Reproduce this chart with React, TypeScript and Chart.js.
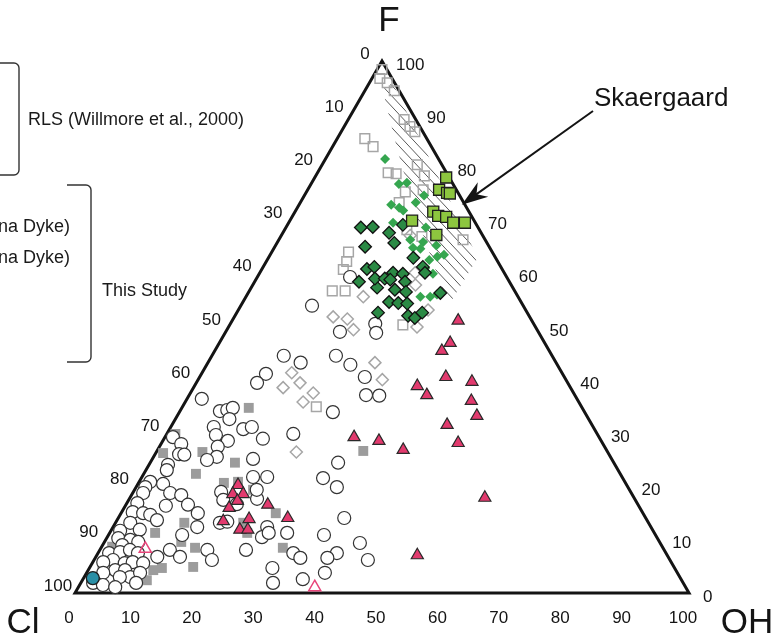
import { useEffect, useRef } from "react";
import { Chart, registerables } from "chart.js";

Chart.register(...registerables);

// All data are ternary compositions given as [F, OH] in mol %; Cl = 100 - F - OH.
const rlsOpenSquares: [number, number][] = [
  [98.4, 0.8], [96.7, 1.3], [95.9, 2.9], [94.4, 4.8], [89.0, 9.1], [87.7, 10.7], [86.7, 12.0],
  [85.4, 4.5], [83.9, 6.6], [80.5, 15.5], [78.4, 17.7], [79.0, 11.5], [78.8, 12.9], [75.4, 16.1],
  [75.8, 18.8], [73.4, 16.1], [66.4, 30.0], [64.1, 12.5], [62.3, 13.1], [60.8, 13.3], [56.8, 13.5],
  [56.8, 15.6], [50.4, 28.2], [68.3, 19.9], [35.0, 21.8], [67.0, 23.0],
];

const rlsOpenDiamonds: [number, number][] = [
  [60.2, 25.3], [57.9, 26.5], [55.7, 19.1], [51.9, 16.1], [51.5, 18.6], [49.5, 20.6], [53.2, 30.9],
  [50.0, 30.7], [43.3, 27.2], [40.1, 30.0], [41.4, 14.6], [39.5, 16.9], [38.6, 14.6], [37.6, 20.0],
  [35.9, 19.2], [26.5, 22.8], [67.2, 21.0],
];

const greySquares: [number, number][] = [
  [34.8, 10.9], [29.9, 1.4], [26.3, 1.2], [26.5, 7.5], [24.5, 13.8], [22.4, 8.5], [20.7, 13.9],
  [19.4, 19.3], [15.0, 25.2], [13.2, 11.2], [11.3, 7.4], [13.2, 20.8], [9.6, 12.5], [8.5, 15.3],
  [8.5, 29.6], [8.7, 1.7], [4.9, 16.8], [4.7, 11.8], [4.9, 2.0], [2.4, 10.5], [26.7, 33.6],
  [4.3, 10.6], [20.9, 16.1], [11.3, 22.4],
];

const openCircles: [number, number][] = [
  [44.6, 11.7], [43.3, 15.1], [41.2, 10.5], [39.5, 9.9], [36.5, 2.4], [34.2, 6.5], [34.4, 7.6],
  [34.8, 8.3], [32.7, 8.8], [30.8, 12.0], [31.2, 13.2], [31.2, 7.0], [29.7, 8.1], [28.6, 10.6],
  [29.0, 16.1], [29.9, 20.6], [29.3, 1.3], [28.0, 3.3], [26.1, 3.9], [27.5, 9.5], [25.6, 10.3],
  [25.0, 9.0], [26.0, 4.8], [24.1, 3.1], [23.1, 3.4], [25.2, 16.4], [21.8, 18.1], [21.8, 20.4],
  [20.9, 1.8], [19.9, 1.5], [18.8, 1.7], [20.5, 4.1], [18.8, 6.1], [18.4, 8.1], [16.4, 6.6],
  [16.6, 10.1], [15.0, 12.5], [12.4, 13.7], [19.0, 14.3], [17.5, 15.4], [16.7, 18.0], [17.7, 20.8],
  [16.9, 1.7], [15.2, 1.8], [15.0, 3.6], [14.7, 4.9], [13.7, 6.5], [13.2, 2.4], [11.9, 4.6],
  [11.7, 1.5], [10.3, 1.9], [10.0, 4.0], [9.6, 5.5], [9.0, 3.2], [7.5, 1.8], [7.7, 3.5], [8.1, 4.9],
  [7.5, 6.5], [6.2, 3.1], [5.8, 1.7], [5.6, 5.3], [5.8, 6.5], [5.6, 8.3], [4.3, 4.4], [4.3, 6.0],
  [3.8, 2.7], [3.0, 7.5], [3.8, 8.7], [3.0, 5.8], [1.9, 2.0], [1.5, 3.8], [1.1, 6.0], [1.9, 9.0],
  [6.8, 10.0], [8.1, 11.4], [6.8, 13.7], [10.9, 12.0], [8.1, 17.5], [6.2, 19.2], [13.2, 17.0],
  [13.4, 18.1], [12.4, 25.1], [10.5, 25.2], [11.3, 25.9], [11.3, 28.9], [8.1, 23.8], [4.7, 29.8],
  [1.9, 31.3], [7.5, 31.8], [6.6, 33.4], [2.6, 35.8], [19.4, 19.9], [54.0, 11.6], [49.1, 18.6],
  [50.6, 23.6], [48.9, 24.6], [44.6, 20.2], [42.9, 23.4], [40.6, 26.9], [37.2, 28.8], [37.1, 31.0],
  [34.0, 25.0], [24.5, 30.6], [21.6, 29.6], [19.9, 32.7], [14.1, 36.8], [10.9, 35.1], [9.4, 41.7],
  [7.5, 38.9], [6.6, 37.8], [6.2, 44.6], [3.8, 38.8], [59.4, 15.1],
];

const magentaTriangles: [number, number][] = [
  [20.3, 16.4], [18.6, 16.4], [18.6, 18.1], [17.3, 17.8], [16.0, 17.1], [16.6, 23.1], [13.5, 17.4],
  [13.9, 21.4], [11.9, 20.9], [11.9, 22.2], [14.1, 27.6], [51.2, 36.8], [47.0, 37.6], [45.5, 37.0],
  [40.6, 40.1], [39.7, 44.8], [38.9, 36.3], [37.2, 38.7], [36.1, 46.5], [33.3, 48.8], [31.6, 44.8],
  [28.2, 48.3], [29.3, 30.8], [28.6, 35.2], [26.9, 40.0], [17.9, 57.8], [7.1, 52.2],
];

const openPinkTriangles: [number, number][] = [[8.3, 7.3], [1.1, 38.5]];

const tealCircles: [number, number][] = [[2.8, 1.5]];

const darkGreenDiamonds: [number, number][] = [
  [68.7, 12.2], [68.8, 14.1], [65.1, 14.7], [67.7, 17.3], [65.8, 19.1], [69.2, 18.8], [60.9, 17.1],
  [61.3, 18.1], [58.5, 17.0], [57.4, 20.5], [59.1, 19.3], [59.1, 20.9], [60.2, 21.7], [58.9, 21.9],
  [60.0, 23.4], [58.5, 24.5], [57.0, 23.6], [56.6, 25.6], [54.7, 23.8], [54.5, 25.4], [54.4, 26.9],
  [52.7, 23.0], [52.1, 28.2], [51.7, 29.5], [52.7, 30.2], [63.0, 23.6], [61.3, 26.0], [60.2, 26.9],
  [56.4, 31.3],
];

const brightGreenDiamonds: [number, number][] = [
  [81.6, 9.7], [76.9, 14.3], [77.1, 15.5], [74.7, 19.5], [73.4, 18.8], [73.0, 15.0], [72.4, 16.6],
  [71.9, 17.5], [69.6, 17.0], [68.7, 22.8], [66.4, 21.4], [66.0, 23.7], [65.3, 26.2], [64.9, 22.6],
  [64.7, 23.9], [62.6, 26.4], [63.2, 27.4], [63.6, 28.3], [61.1, 26.5], [60.0, 28.3], [55.7, 28.4],
  [55.7, 30.0], [56.1, 30.9],
];

const skaergaardSquares: [number, number][] = [
  [78.1, 21.4], [75.8, 21.4], [75.2, 23.0], [75.1, 23.5], [71.7, 22.5], [70.9, 23.7], [70.7, 25.1],
  [69.6, 26.8], [69.6, 28.7], [70.0, 19.9], [67.3, 25.2],
];

// Skaergaard field (hatched), [F, OH]
const skaergaardField: [number, number][] = [
  [95.7, 2.45], [95.7, 3.95], [63.0, 34.1], [55.1, 33.85], [55.7, 32.45], [71.5, 19.65], [83.3, 10.85],
  [92.7, 4.15],
];
const skaergaardArrowTip: [number, number] = [73.0, 26.5];

const axisTicks = [0, 10, 20, 30, 40, 50, 60, 70, 80, 90, 100];
const axisTitles = { top: "F", left: "Cl", right: "OH" };
const legendTexts = {
  rls: "RLS (Willmore et al., 2000)",
  dyke1: "na Dyke)",
  dyke2: "na Dyke)",
  study: "This Study",
  skaergaard: "Skaergaard",
};

const S3 = Math.sqrt(3) / 2;
const toXY = ([f, oh]: [number, number]) => ({ x: oh + f / 2, y: f * S3 });

const FONT = "'Liberation Sans', Arial, Helvetica, sans-serif";

const ternaryPlugin = {
  id: "ternaryDecor",
  beforeDatasetsDraw(chart: any) {
    const { ctx } = chart;
    const xs = chart.scales.x;
    const ys = chart.scales.y;
    const P = (f: number, oh: number): [number, number] => [
      xs.getPixelForValue(oh + f / 2),
      ys.getPixelForValue(f * S3),
    ];
    // hatched field
    const poly = skaergaardField.map(([f, oh]) => P(f, oh));
    ctx.save();
    ctx.beginPath();
    poly.forEach(([px, py], i) => (i ? ctx.lineTo(px, py) : ctx.moveTo(px, py)));
    ctx.closePath();
    ctx.clip();
    const a = (47 * Math.PI) / 180;
    const dx = Math.cos(a), dy = Math.sin(a);
    const nx = -dy, ny = dx;
    const ts = poly.map(([px, py]) => px * nx + py * ny);
    const tmin = Math.min(...ts), tmax = Math.max(...ts);
    ctx.beginPath();
    for (let t = tmin + 2; t <= tmax; t += 7.2) {
      const cx = nx * t, cy = ny * t;
      const c0 = poly[0][0] * dx + poly[0][1] * dy;
      ctx.moveTo(cx + dx * (c0 - 400), cy + dy * (c0 - 400));
      ctx.lineTo(cx + dx * (c0 + 400), cy + dy * (c0 + 400));
    }
    ctx.strokeStyle = "#5a5a5a";
    ctx.lineWidth = 1;
    ctx.stroke();
    ctx.restore();

    // triangle
    const A = P(100, 0), B = P(0, 0), C = P(0, 100);
    ctx.save();
    ctx.beginPath();
    ctx.moveTo(A[0], A[1]);
    ctx.lineTo(B[0], B[1]);
    ctx.lineTo(C[0], C[1]);
    ctx.closePath();
    ctx.lineWidth = 3;
    ctx.lineJoin = "miter";
    ctx.strokeStyle = "#141414";
    ctx.stroke();
    ctx.restore();
  },
  afterDatasetsDraw(chart: any) {
    const { ctx } = chart;
    const xs = chart.scales.x;
    const ys = chart.scales.y;
    const P = (f: number, oh: number): [number, number] => [
      xs.getPixelForValue(oh + f / 2),
      ys.getPixelForValue(f * S3),
    ];
    ctx.save();
    ctx.fillStyle = "#141414";
    ctx.textBaseline = "middle";
    ctx.font = `17px ${FONT}`;
    axisTicks.forEach((v) => {
      // bottom: OH
      const [bx, by] = P(0, v);
      ctx.textAlign = "center";
      ctx.fillText(String(v), bx - 6, by + 25);
      // left: Cl (0 at F apex, 100 at Cl corner)
      const [lx, ly] = P(100 - v, 0);
      ctx.fillText(String(v), lx - 17, ly - 7);
      // right: F
      const [rx, ry] = P(v, 100 - v);
      ctx.textAlign = "left";
      ctx.fillText(String(v), rx + 14, ry + 4);
    });
    // titles
    ctx.font = `35px ${FONT}`;
    ctx.textAlign = "center";
    const A = P(100, 0), B = P(0, 0), C = P(0, 100);
    ctx.fillText(axisTitles.top, A[0] + 7, A[1] - 40);
    ctx.fillText(axisTitles.left, B[0] - 52, B[1] + 30);
    ctx.fillText(axisTitles.right, C[0] + 58, C[1] + 30);

    // Skaergaard label and arrow
    ctx.font = `26px ${FONT}`;
    ctx.textAlign = "left";
    ctx.fillText(legendTexts.skaergaard, 594, 99);
    const [tx, ty] = P(skaergaardArrowTip[0], skaergaardArrowTip[1]);
    const sx = 593, sy = 111;
    const L = Math.hypot(tx - sx, ty - sy);
    const ux = (tx - sx) / L, uy = (ty - sy) / L;
    const px = -uy, py = ux;
    ctx.strokeStyle = "#141414";
    ctx.lineWidth = 2;
    ctx.beginPath();
    ctx.moveTo(sx, sy);
    ctx.lineTo(tx - ux * 16, ty - uy * 16);
    ctx.stroke();
    ctx.beginPath();
    ctx.moveTo(tx, ty);
    ctx.lineTo(tx - ux * 26 + px * 9, ty - uy * 26 + py * 9);
    ctx.lineTo(tx - ux * 18, ty - uy * 18);
    ctx.lineTo(tx - ux * 26 - px * 9, ty - uy * 26 - py * 9);
    ctx.closePath();
    ctx.fill();

    // legend brackets and texts (the legend symbols lie outside the frame)
    ctx.strokeStyle = "#333";
    ctx.lineWidth = 1.4;
    ctx.beginPath();
    ctx.moveTo(0, 63);
    ctx.arcTo(19, 63, 19, 175, 5);
    ctx.arcTo(19, 175, 0, 175, 5);
    ctx.lineTo(0, 175);
    ctx.stroke();
    ctx.beginPath();
    ctx.moveTo(67, 185);
    ctx.arcTo(91, 185, 91, 362, 5);
    ctx.arcTo(91, 362, 67, 362, 5);
    ctx.lineTo(67, 362);
    ctx.stroke();
    ctx.font = `18px ${FONT}`;
    ctx.textAlign = "left";
    ctx.fillStyle = "#1a1a1a";
    ctx.fillText(legendTexts.rls, 28, 120);
    ctx.fillText(legendTexts.study, 102, 291);
    ctx.textAlign = "right";
    ctx.fillText(legendTexts.dyke1, 70, 227);
    ctx.fillText(legendTexts.dyke2, 70, 258);
    ctx.restore();
  },
};

export default function App() {
  const ref = useRef<HTMLCanvasElement | null>(null);
  useEffect(() => {
    if (!ref.current) return;
    const ds = (
      data: [number, number][],
      style: string,
      radius: number,
      bg: string,
      border: string,
      bw: number,
      order: number
    ) => ({
      data: data.map(toXY),
      pointStyle: style,
      pointRadius: radius,
      pointHoverRadius: radius,
      backgroundColor: bg,
      borderColor: border,
      borderWidth: bw,
      showLine: false,
      clip: false as any,
      order,
    });
    const chart = new Chart(ref.current, {
      type: "scatter",
      data: {
        datasets: [
          ds(skaergaardSquares, "rect", 7.8, "#8dc63f", "#1e1e1e", 1.3, 1),
          ds(darkGreenDiamonds, "rectRot", 6.3, "#2b8a45", "#111", 1.3, 2),
          ds(brightGreenDiamonds, "rectRot", 5, "#35a64f", "#35a64f", 0, 3),
          ds(magentaTriangles, "triangle", 7, "#e23a6e", "#2a2a2a", 1.2, 4),
          ds(tealCircles, "circle", 6.5, "#2a8fa6", "#1e1e1e", 1.3, 5),
          ds(openPinkTriangles, "triangle", 7, "rgba(255,255,255,0)", "#e8457a", 1.5, 6),
          ds(openCircles, "circle", 6.5, "#ffffff", "#333333", 1.2, 7),
          ds(greySquares, "rect", 7, "#9c9c9c", "#9c9c9c", 0, 8),
          ds(rlsOpenDiamonds, "rectRot", 6, "rgba(255,255,255,0)", "#a6a6a6", 1.5, 9),
          ds(rlsOpenSquares, "rect", 6.8, "rgba(255,255,255,0)", "#a6a6a6", 1.5, 10),
        ] as any,
      },
      options: {
        responsive: false,
        animation: false,
        devicePixelRatio: 1,
        events: [],
        layout: { padding: { left: 75, right: 85, top: 61, bottom: 46 } },
        scales: {
          x: { type: "linear", min: 0, max: 100, display: false },
          y: { type: "linear", min: 0, max: 100 * S3, display: false },
        },
        plugins: { legend: { display: false }, tooltip: { enabled: false } },
      },
      plugins: [ternaryPlugin],
    });
    return () => chart.destroy();
  }, []);
  return (
    <div style={{ position: "absolute", left: 0, top: 0, width: 774, height: 639, background: "#fff" }}>
      <canvas ref={ref} width={774} height={639} />
    </div>
  );
}
